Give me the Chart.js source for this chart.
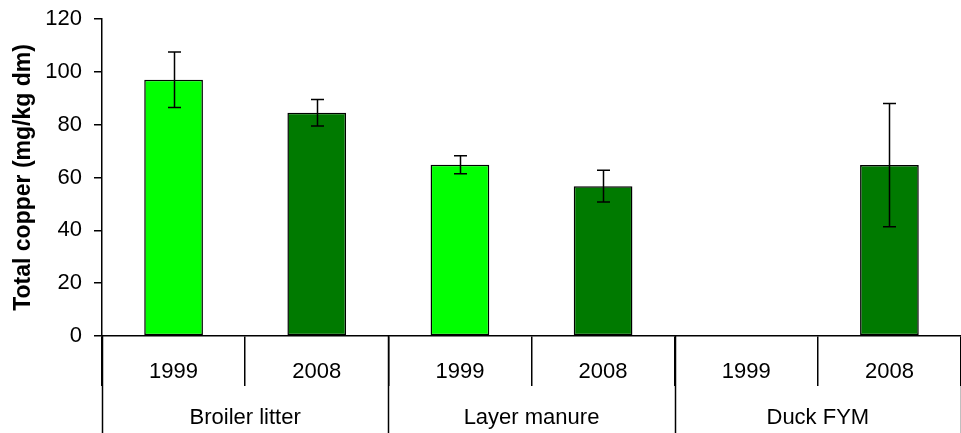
<!DOCTYPE html>
<html>
<head>
<meta charset="utf-8">
<script src="https://cdn.jsdelivr.net/npm/chart.js@4/dist/chart.umd.min.js"></script>
<style>
  html, body { margin: 0; padding: 0; background: #fff; }
  #wrap { width: 961px; height: 433px; }
</style>
</head>
<body>
<div id="wrap"><canvas id="copperChart"></canvas></div>
<script>
// values
var groups = ['Broiler litter', 'Layer manure', 'Duck FYM'];
var years = ['1999', '2008', '1999', '2008', '1999', '2008'];
var copper = [97, 84.5, 64.8, 56.7, null, 64.7];
var copperErr = [10.5, 5, 3.4, 6, null, 23.3];
var yTicks = [0, 20, 40, 60, 80, 100, 120];

var FONT = "'Liberation Sans', Arial, sans-serif";
var yearColors = { '1999': '#00ff00', '2008': '#007a00' };

// error bars + the lower level of the grouped category axis
var extrasPlugin = {
    id: 'extras',
    afterDatasetsDraw: function(chart) {
        var ctx = chart.ctx;
        var x = chart.scales.x, y = chart.scales.y;
        ctx.save();
        ctx.strokeStyle = '#000';
        ctx.lineWidth = 1.5;
        copper.forEach(function(v, i) {
            if (v === null || copperErr[i] === null) return;
            var cx = Math.round(x.getPixelForValue(i)) + 0.5;
            var top = y.getPixelForValue(v + copperErr[i]);
            var bot = y.getPixelForValue(v - copperErr[i]);
            ctx.beginPath();
            ctx.moveTo(cx, top); ctx.lineTo(cx, bot);
            ctx.moveTo(cx - 6.5, top); ctx.lineTo(cx + 6.5, top);
            ctx.moveTo(cx - 6.5, bot); ctx.lineTo(cx + 6.5, bot);
            ctx.stroke();
        });
        ctx.restore();
    },
    afterDraw: function(chart) {
        var ctx = chart.ctx;
        var x = chart.scales.x;
        var area = chart.chartArea;
        var step = x.getPixelForValue(1) - x.getPixelForValue(0);
        ctx.save();
        ctx.strokeStyle = '#000';
        ctx.lineWidth = 1.5;
        // long dividers between groups, down to the bottom edge
        for (var g = 0; g <= groups.length; g++) {
            var px = Math.round(x.getPixelForValue(g * 2) - step / 2) + 0.5;
            ctx.beginPath();
            ctx.moveTo(px, area.bottom);
            ctx.lineTo(px, chart.height);
            ctx.stroke();
        }
        ctx.fillStyle = '#000';
        ctx.font = '22px ' + FONT;
        ctx.textAlign = 'center';
        ctx.textBaseline = 'middle';
        groups.forEach(function(name, g) {
            var cx = (x.getPixelForValue(g * 2) + x.getPixelForValue(g * 2 + 1)) / 2;
            ctx.fillText(name, cx, 418);
        });
        ctx.restore();
    }
};

var ctx = document.getElementById('copperChart').getContext('2d');
var copperChart = new Chart(ctx, {
    type: 'bar',
    data: {
        labels: years,
        datasets: [{
            label: 'Total copper',
            data: copper,
            backgroundColor: years.map(function(yr) { return yearColors[yr]; }),
            borderColor: '#000',
            borderWidth: 1.5,
            borderSkipped: false,
            categoryPercentage: 1,
            barPercentage: 0.41
        }]
    },
    options: {
        responsive: true,
        maintainAspectRatio: false,
        animation: false,
        layout: { padding: { top: 19, right: 0, left: 0, bottom: 0 } },
        plugins: {
            legend: { display: false },
            tooltip: { enabled: false }
        },
        scales: {
            x: {
                offset: true,
                border: { display: true, color: '#000', width: 1.5 },
                grid: {
                    display: true,
                    offset: true,
                    drawOnChartArea: false,
                    color: '#000',
                    lineWidth: 1.5,
                    tickLength: 50
                },
                ticks: {
                    color: '#000',
                    font: { family: FONT, size: 22 },
                    padding: -27,
                    maxRotation: 0
                },
                afterFit: function(scale) {
                    scale.height = 97;
                    scale.paddingLeft = 0;
                    scale.paddingRight = 0;
                }
            },
            y: {
                min: 0,
                max: 120,
                afterBuildTicks: function(scale) {
                    scale.ticks = yTicks.map(function(v) { return { value: v }; });
                },
                border: { display: true, color: '#000', width: 1.5 },
                grid: {
                    display: true,
                    drawOnChartArea: false,
                    color: '#000',
                    lineWidth: 1.5,
                    tickLength: 8
                },
                ticks: {
                    color: '#000',
                    font: { family: FONT, size: 22 },
                    padding: 12
                },
                title: {
                    display: true,
                    text: 'Total copper (mg/kg dm)',
                    color: '#000',
                    font: { family: FONT, size: 23, weight: 'bold' },
                    padding: { top: 10, bottom: 0 }
                },
                afterFit: function(scale) {
                    scale.width = 102;
                    scale.paddingTop = 0;
                    scale.paddingBottom = 0;
                }
            }
        }
    },
    plugins: [extrasPlugin]
});
</script>
</body>
</html>
